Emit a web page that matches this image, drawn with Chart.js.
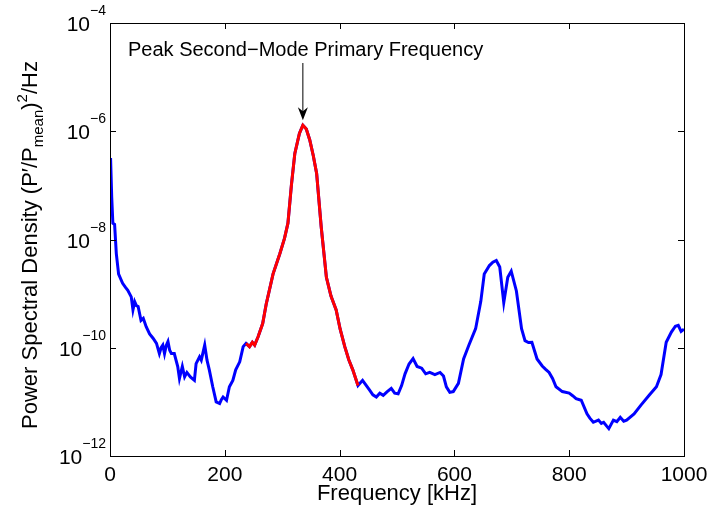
<!DOCTYPE html>
<html>
<head>
<meta charset="utf-8">
<script src="https://cdn.jsdelivr.net/npm/chart.js@4"></script>
<style>
  html, body { margin: 0; padding: 0; background: #fff; }
  #wrap { width: 709px; height: 510px; }
</style>
</head>
<body>
<div id="wrap"><canvas id="psdChart" width="709" height="510"></canvas></div>
<script>
// PSD of the pressure signal
const freqKHz = [
  1, 3, 5, 8, 11, 15, 22, 27, 31, 37, 40, 43, 46, 49, 54, 58, 63, 69, 75, 81,
  86, 89, 92, 95, 98, 101, 104, 107, 112, 118, 121, 126, 130, 134, 140, 147, 150, 156, 159, 165,
  169, 173, 179, 185, 191, 194, 197, 203, 208, 214, 219, 226, 232, 237,
  243, 248, 252, 258, 266, 272, 284, 296, 304, 310, 316, 322, 330, 336, 342, 348,
  354, 360, 368, 377, 385, 394, 401, 409, 416, 423, 432,
  440, 452, 458, 464, 470, 476, 483, 490, 496, 502, 508, 514, 521, 528, 535, 543, 550, 557, 566,
  575, 581, 586, 592, 598, 607, 616, 625, 637, 646, 652, 661, 667, 673, 679, 686, 693, 699, 708,
  717, 723, 729, 735, 744, 753, 759, 765, 771, 777, 788, 800, 806, 812, 821, 831, 836, 842, 851,
  856, 860, 865, 869, 877, 883, 889, 895, 900, 913, 925, 940, 952, 960, 969, 978, 985, 990, 995, 1000
];
const psd = [
  3.2e-7, 6.0e-8, 2.0e-8, 1.9e-8, 5.5e-9, 2.3e-9, 1.55e-9, 1.3e-9, 1.15e-9, 8.7e-10, 5.0e-10, 7.1e-10, 6.0e-10, 5.8e-10, 3.2e-10, 3.5e-10, 2.45e-10, 1.8e-10, 1.5e-10, 1.2e-10,
  7.8e-11, 1.0e-10, 1.12e-10, 7.8e-11, 1.1e-10, 1.3e-10, 9.0e-11, 7.8e-11, 7.8e-11, 4.5e-11, 2.7e-11, 4.5e-11, 2.9e-11, 3.5e-11, 2.9e-11, 2.5e-11, 5.1e-11, 6.8e-11, 5.9e-11, 1.12e-10,
  5.9e-11, 3.9e-11, 1.9e-11, 1.0e-11, 9.3e-12, 1.1e-11, 1.23e-11, 1.07e-11, 1.9e-11, 2.5e-11, 3.9e-11, 5.5e-11, 1.05e-10, 1.2e-10,
  1.05e-10, 1.26e-10, 1.12e-10, 1.6e-10, 2.8e-10, 6.3e-10, 2.3e-9, 5.5e-9, 1.05e-8, 2.0e-8, 1.0e-7, 3.9e-7, 9.1e-7, 1.29e-6, 1.1e-6, 6.9e-7,
  3.6e-7, 1.66e-7, 1.7e-8, 2.0e-9, 9.0e-10, 5.0e-10, 2.2e-10, 1.05e-10, 6.0e-11, 3.9e-11, 2.0e-11,
  2.5e-11, 1.66e-11, 1.35e-11, 1.23e-11, 1.45e-11, 1.32e-11, 1.55e-11, 1.78e-11, 1.45e-11, 1.41e-11, 2.0e-11, 3.3e-11, 5.0e-11, 6.3e-11, 4.5e-11, 4.2e-11, 3.3e-11, 3.5e-11, 3.2e-11,
  3.5e-11, 3.0e-11, 1.9e-11, 1.5e-11, 1.55e-11, 2.2e-11, 6.2e-11, 1.1e-10, 2.25e-10, 7.2e-10, 2.3e-9, 3.3e-9, 3.8e-9, 4.1e-9, 3.1e-9, 6.8e-10, 2.0e-9, 2.6e-9, 1.12e-9,
  2.25e-10, 1.35e-10, 1.25e-10, 1.26e-10, 6.2e-11, 4.6e-11, 4.0e-11, 3.5e-11, 2.7e-11, 1.9e-11, 1.55e-11, 1.45e-11, 1.3e-11, 1.15e-11, 1.07e-11, 6.0e-12, 5.0e-12, 4.2e-12, 4.6e-12,
  4.0e-12, 4.2e-12, 3.6e-12, 3.2e-12, 4.6e-12, 4.3e-12, 5.2e-12, 4.4e-12, 4.6e-12, 6.0e-12, 8.7e-12, 1.35e-11, 1.9e-11, 3.2e-11, 1.26e-10, 1.95e-10, 2.5e-10, 2.6e-10, 2.0e-10, 2.2e-10
];
// second-mode band drawn in red
const modeBand = [237, 432];
const xTicks = [0, 200, 400, 600, 800, 1000];
const yTickExps = [-12, -10, -8, -6, -4];
const peakFreq = 336;
const peakPsd = 1.29e-6;

const FONT = '"Liberation Sans", Arial, Helvetica, sans-serif';

const allPts = freqKHz.map((f, i) => ({ x: f, y: psd[i] }));
const redPts = allPts.filter(p => p.x >= modeBand[0] && p.x <= modeBand[1]);

const matlabAxes = {
  id: 'matlabAxes',
  afterDraw(chart) {
    const ctx = chart.ctx;
    const a = chart.chartArea;
    const xs = chart.scales.x, ys = chart.scales.y;
    ctx.save();
    ctx.strokeStyle = '#000';
    ctx.lineWidth = 1;
    ctx.strokeRect(Math.round(a.left) + 0.5, Math.round(a.top) + 0.5,
      Math.round(a.right - a.left), Math.round(a.bottom - a.top));

    // inward ticks, all four sides
    ctx.beginPath();
    xTicks.forEach(v => {
      const px = Math.round(xs.getPixelForValue(v)) + 0.5;
      ctx.moveTo(px, a.bottom); ctx.lineTo(px, a.bottom - 6);
      ctx.moveTo(px, a.top); ctx.lineTo(px, a.top + 6);
    });
    yTickExps.forEach(e => {
      const py = Math.round(ys.getPixelForValue(Math.pow(10, e))) + 0.5;
      ctx.moveTo(a.left, py); ctx.lineTo(a.left + 6, py);
      ctx.moveTo(a.right, py); ctx.lineTo(a.right - 6, py);
    });
    ctx.stroke();

    // tick labels
    ctx.fillStyle = '#000';
    ctx.font = '21px ' + FONT;
    ctx.textAlign = 'center';
    ctx.textBaseline = 'alphabetic';
    xTicks.forEach(v => ctx.fillText(String(v), xs.getPixelForValue(v), a.bottom + 25));

    yTickExps.forEach(e => {
      const py = ys.getPixelForValue(Math.pow(10, e));
      const sup = '\u2212' + Math.abs(e);
      ctx.font = '14px ' + FONT;
      const supW = ctx.measureText(sup).width;
      const supX = a.left - 4 - supW;
      ctx.textAlign = 'left';
      ctx.fillText(sup, supX, py - 8);
      ctx.font = '21px ' + FONT;
      ctx.textAlign = 'right';
      ctx.fillText('10', supX, py + 8);
    });

    // x title
    ctx.font = '22px ' + FONT;
    ctx.textAlign = 'center';
    ctx.fillText('Frequency [kHz]', (a.left + a.right) / 2, 500);

    // y title with sub/superscript
    ctx.save();
    ctx.translate(37, 245);
    ctx.rotate(-Math.PI / 2);
    const parts = [
      { t: 'Power Spectral Density (P\u2032/P', size: 22, dy: 0 },
      { t: 'mean', size: 15, dy: 6 },
      { t: ')', size: 22, dy: 0 },
      { t: '2', size: 15, dy: -10 },
      { t: '/Hz', size: 22, dy: 0 }
    ];
    let total = 0;
    parts.forEach(p => { ctx.font = p.size + 'px ' + FONT; p.w = ctx.measureText(p.t).width; total += p.w; });
    let cx = -total / 2;
    ctx.textAlign = 'left';
    parts.forEach(p => {
      ctx.font = p.size + 'px ' + FONT;
      ctx.fillText(p.t, cx, p.dy);
      cx += p.w;
    });
    ctx.restore();

    // peak annotation
    const ax = xs.getPixelForValue(peakFreq);
    const tipY = ys.getPixelForValue(peakPsd) - 5;
    ctx.font = '20px ' + FONT;
    ctx.textAlign = 'left';
    ctx.fillText('Peak Second\u2212Mode Primary Frequency', 128, 56);
    ctx.beginPath();
    ctx.moveTo(ax, 63);
    ctx.lineTo(ax, tipY - 6);
    ctx.stroke();
    ctx.beginPath();
    ctx.moveTo(ax, tipY);
    ctx.lineTo(ax - 5, tipY - 13);
    ctx.lineTo(ax, tipY - 9);
    ctx.lineTo(ax + 5, tipY - 13);
    ctx.closePath();
    ctx.fill();
    ctx.restore();
  }
};

new Chart(document.getElementById('psdChart'), {
  type: 'line',
  data: {
    datasets: [
      // first dataset is drawn on top
      {
        data: redPts,
        borderColor: '#ff0000',
        borderWidth: 3,
        pointRadius: 0,
        tension: 0,
        fill: false
      },
      {
        data: allPts,
        borderColor: '#0000ff',
        borderWidth: 3,
        pointRadius: 0,
        tension: 0,
        fill: false
      }
    ]
  },
  options: {
    responsive: false,
    animation: false,
    layout: { padding: { left: 110, top: 23, right: 25, bottom: 54 } },
    plugins: { legend: { display: false }, tooltip: { enabled: false } },
    scales: {
      x: {
        type: 'linear',
        min: 0,
        max: 1000,
        grid: { display: false, drawTicks: false },
        border: { display: false },
        ticks: { display: false },
        afterFit(s) { s.height = 0; }
      },
      y: {
        type: 'logarithmic',
        min: 1e-12,
        max: 1e-4,
        grid: { display: false, drawTicks: false },
        border: { display: false },
        ticks: { display: false },
        afterFit(s) { s.width = 0; }
      }
    }
  },
  plugins: [matlabAxes]
});
</script>
</body>
</html>
